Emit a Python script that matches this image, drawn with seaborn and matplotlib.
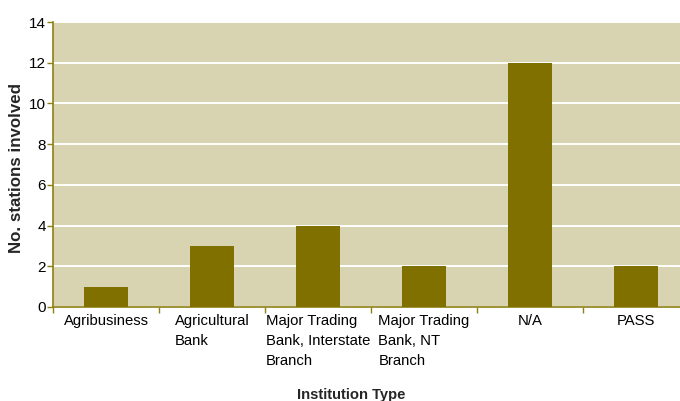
import matplotlib
matplotlib.use("Agg")
import matplotlib.pyplot as plt
import seaborn as sns
import pandas as pd

categories = [
    "Agribusiness",
    "Agricultural\nBank",
    "Major Trading\nBank, Interstate\nBranch",
    "Major Trading\nBank, NT\nBranch",
    "N/A",
    "PASS",
]
stations = [1, 3, 4, 2, 12, 2]
y_ticks = [0, 2, 4, 6, 8, 10, 12, 14]

BAR = "#7f7000"
BG = "#d8d3b0"
AXIS = "#8f8014"

sns.set_theme(style="white")
plt.rcParams["font.family"] = ["Liberation Sans", "DejaVu Sans"]

df = pd.DataFrame({"Institution Type": categories, "stations": stations})

fig = plt.figure(figsize=(6.8, 4.01), dpi=100)
# plot area runs slightly past the right edge of the canvas
ax = fig.add_axes([53 / 680, 1 - 307 / 401, 636 / 680, 285 / 401])
ax.set_facecolor(BG)

sns.barplot(data=df, x="Institution Type", y="stations", color=BAR,
            saturation=1, width=0.415, ax=ax, zorder=3,
            edgecolor=BAR, linewidth=0)

ax.set_xlim(-0.5, len(categories) - 0.5)
ax.set_ylim(0, 14)
ax.set_yticks(y_ticks)
ax.set_yticklabels([str(v) for v in y_ticks], fontsize=11)
ax.yaxis.grid(True, color="white", linewidth=1.4, zorder=1)
ax.set_axisbelow(True)

ax.set_xticks(range(len(categories)))
ax.set_xticklabels(categories, fontsize=10.7, ha="center",
                   multialignment="left", linespacing=1.55)
ax.set_xticks([i - 0.5 for i in range(len(categories))], minor=True)
ax.tick_params(axis="x", which="major", length=0, pad=5, colors="black")
ax.tick_params(axis="x", which="minor", length=4, width=1, color=AXIS,
               bottom=True)
ax.tick_params(axis="y", length=4, width=1, color=AXIS, pad=1,
               left=True)
for lbl in ax.get_yticklabels() + ax.get_xticklabels():
    lbl.set_color("black")

for side in ("top", "right"):
    ax.spines[side].set_visible(False)
for side in ("left", "bottom"):
    ax.spines[side].set_color(AXIS)
    ax.spines[side].set_linewidth(1.2)

ax.set_xlabel("")
ax.set_ylabel("No. stations involved", fontsize=12.2, fontweight="bold")
ax.yaxis.set_label_coords(-0.046, 0.489)
fig.text(351 / 680, 1 - 395 / 401, "Institution Type", fontsize=10.6,
         fontweight="bold", ha="center", va="center")

fig.savefig("out.png", dpi=100, facecolor="white")
